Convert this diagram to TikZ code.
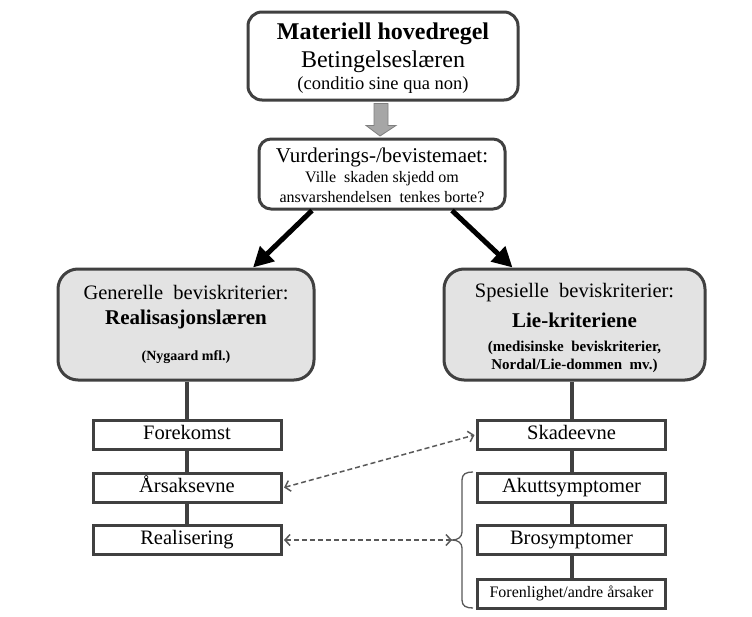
\documentclass[tikz,border=0pt]{standalone}
\usepackage{fontspec}
\setmainfont{Liberation Serif}
\usetikzlibrary{arrows.meta,calc}
\definecolor{bord}{HTML}{404040}
\definecolor{boxgrey}{HTML}{E3E3E3}
\definecolor{arrgrey}{HTML}{A6A6A6}
\definecolor{arrborder}{HTML}{7F7F7F}
\definecolor{dashgrey}{HTML}{595959}
\newcommand{\myfs}[1]{\fontsize{#1}{#1}\selectfont}
\begin{document}
\begin{tikzpicture}[x=1pt,y=-1pt,
  rbox/.style={draw=bord,line width=3pt,rounded corners=14pt,fill=white,inner sep=0pt},
  gbox/.style={draw=bord,line width=3pt,rounded corners=20pt,fill=boxgrey,inner sep=0pt,minimum height=111pt},
  sbox/.style={draw=bord,line width=3pt,fill=white,inner sep=0pt,minimum width=188pt,minimum height=29pt,font=\myfs{20.5},text height=14pt,text depth=4.5pt},
  txt/.style={inner sep=0pt,align=center},
  link/.style={draw=bord,line width=4pt},
  bigarrow/.style={line width=5pt,-{Triangle[length=20pt,width=20pt]}},
  dasharrow/.style={draw=dashgrey,line width=1.5pt,dash pattern=on 5pt off 3pt,{Straight Barb[length=5pt,width=11pt]}-{Straight Barb[length=5pt,width=11pt]}}]
\useasboundingbox[fill=white] (0,0) rectangle (752,616);

% boxes of the two columns
\node[gbox,minimum width=256pt] (gen) at (186,324.5) {};
\node[gbox,minimum width=261pt] (spes) at (574.5,324.5) {};
\node[sbox] (fore) at (187,434.5) {Forekomst};
\node[sbox] (arsak) at (187,487.5) {Årsaksevne};
\node[sbox] (real) at (187,540) {Realisering};
\node[sbox] (skade) at (571.5,435) {Skadeevne};
\node[sbox] (akutt) at (571.5,487.5) {Akuttsymptomer};
\node[sbox] (bros) at (571.5,540) {Brosymptomer};
\node[sbox,font=\myfs{16},text height=11pt,text depth=3.5pt] (foren) at (571.5,593.5) {Forenlighet/andre årsaker};

% connecting lines
\draw[link] (fore.north |- gen.south) -- (fore.north);
\draw[link] (fore.south) -- (arsak.north);
\draw[link] (arsak.south) -- (real.north);
\draw[link] (skade.north |- spes.south) -- (skade.north);
\draw[link] (skade.south) -- (akutt.north);
\draw[link] (akutt.south) -- (bros.north);
\draw[link] (bros.south) -- (foren.north);

% top box
\node[rbox,minimum width=270pt,minimum height=88pt] (top) at (383,56) {};
\node[txt,font=\myfs{24}\bfseries] (t1) at (383,34) {Materiell hovedregel};
\node[txt,font=\myfs{24}] (t2) at (383,62) {Betingelseslæren};
\node[txt,font=\myfs{18.5}] (t3) at (383,85) {(conditio sine qua non)};

% question box
\node[rbox,rounded corners=12pt,minimum width=246pt,minimum height=70pt] (vurd) at (382,174) {};
\node[txt,font=\myfs{21}] (v1) at (382,157) {Vurderings-/bevistemaet:};
\node[txt,font=\myfs{16}] (v2) at (382,179) {Ville\ \ skaden skjedd om};
\node[txt,font=\myfs{16}] (v3) at (382,197) {ansvarshendelsen\ \ tenkes borte?};

% grey down arrow
\draw[fill=arrgrey,draw=arrborder,line width=0.8pt]
  ($(top.south)+(-9,2)$) -- ($(top.south)+(5,2)$) -- ($(top.south)+(5,24)$)
  -- ($(top.south)+(13,24)$) -- ($(vurd.north)+(-2,-1.5)$)
  -- ($(top.south)+(-17,24)$) -- ($(top.south)+(-9,24)$) -- cycle;

% texts of grey boxes
\node[txt,font=\myfs{20.5}] (g1) at (186,293) {Generelle\ \ beviskriterier:};
\node[txt,font=\myfs{21}\bfseries] (g2) at (186,319) {Realisasjonslæren};
\node[txt,font=\myfs{14}\bfseries] (g3) at (186,357) {(Nygaard mfl.)};
\node[txt,font=\myfs{20.5}] (s1) at (574.5,293) {Spesielle\ \ beviskriterier:};
\node[txt,font=\myfs{21}\bfseries] (s2) at (574.5,320) {Lie-kriteriene};
\node[txt,font=\myfs{15}\bfseries] (s3) at (574.5,348) {(medisinske\ \ beviskriterier,};
\node[txt,font=\myfs{15}\bfseries] (s4) at (574.5,366) {Nordal/Lie-dommen\ \ mv.)};

% black arrows
\draw[bigarrow] ([xshift=-70pt]vurd.south) -- ([xshift=67pt]gen.north);
\draw[bigarrow] ([xshift=70pt]vurd.south) -- ([xshift=-62pt]spes.north);

% brace
\coordinate (bracetip) at (452,540);
\draw[dashgrey,line width=1.3pt] (473,472) .. controls (466,472) and (462,474) .. (462,480)
  -- (462,532) .. controls (462,537) and (458,540) .. (bracetip)
  .. controls (458,540) and (462,543) .. (462,548)
  -- (462,600) .. controls (462,606) and (466,608) .. (473,608);

% dashed arrows
\draw[dasharrow] ([xshift=1.5pt]arsak.east) -- ([xshift=-1.5pt]skade.west);
\draw[dasharrow] ([xshift=1.5pt]real.east) -- (bracetip);
\end{tikzpicture}
\end{document}
